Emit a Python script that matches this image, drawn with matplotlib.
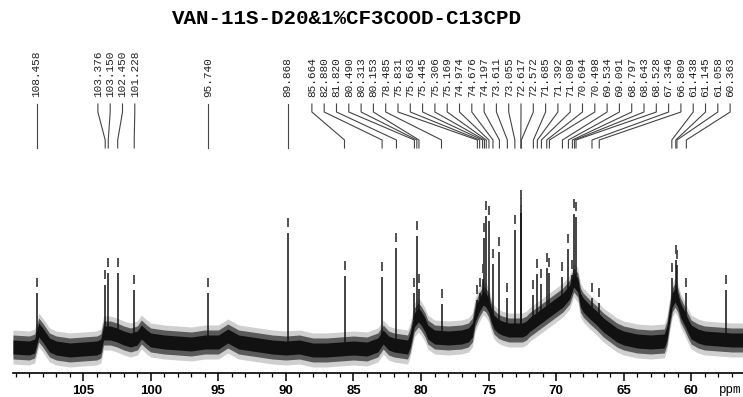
import matplotlib
matplotlib.use('Agg')
import matplotlib.pyplot as plt
from matplotlib.ticker import MultipleLocator
import numpy as np

# ---------------- data ----------------
title = "VAN-11S-D20&1%CF3COOD-C13CPD"

# labelled peaks (ppm) and their apex intensity (arbitrary units)
peak_ppm = [108.458, 103.376, 103.150, 102.450, 101.228, 95.740, 89.868,
            85.664, 82.880, 81.820, 80.490, 80.313, 80.153, 78.485,
            75.831, 75.663, 75.445, 75.306, 75.169, 74.974, 74.676, 74.197,
            73.611, 73.055, 72.617, 72.572, 71.685, 71.392, 71.089, 70.694,
            70.498, 69.534, 69.091, 68.797, 68.643, 68.528, 67.346, 66.809,
            61.438, 61.145, 61.058, 60.363]
peak_int = [52, 60, 72, 72, 55, 52, 112,
            69, 68, 97, 52, 109, 56, 41,
            45, 52, 66, 107, 129, 124, 81, 93,
            47, 115, 140, 132, 50, 71, 61, 77,
            72, 68, 96, 70, 131, 128, 47, 42,
            67, 85, 80, 52]
peak_labels = ["%.3f" % p for p in peak_ppm]

# picked but unlabelled peak
extra_ppm = [57.45]
extra_int = [55]

# centre of the noisy baseline (same arbitrary units)
base_ppm = [110.2, 109, 108.6, 108.3, 108.0, 107.5, 107, 106, 105, 104, 103.7, 103.5,
            103, 102.5, 102, 101.5, 101, 100.7, 100.3, 100, 99, 98, 97, 96, 95, 94.3,
            93.5, 92, 91, 90, 89, 88, 87, 86, 85, 84, 83.2, 82.8, 82.4, 82, 81, 80.8,
            80.5, 80.2, 80, 79.7, 79.5, 79, 78, 77, 76.5, 76.2, 76, 75.7, 75.4, 75.2,
            75, 74.8, 74.6, 74.3, 74, 73.5, 73, 72.5, 72.2, 72, 71.5, 71, 70.5, 70,
            69.5, 69, 68.7, 68.4, 68.2, 68, 67.5, 67, 66.5, 66, 65.5, 65, 64, 63, 62,
            61.8, 61.6, 61.4, 61.2, 61, 60.8, 60.5, 60.2, 60, 59.5, 59, 58, 57, 56.1]
base_int = [-2, -3, -1, 15, 10, 0, -3, -5, -4, -3, -1, 12,
            12, 10, 7, 5, 7, 13, 8, 5, 3, 2, 1, 3, 3, 9,
            3, 0, -2, -3, -2, -5, -5, -4, -3, -4, 0, 8, 2, 0, -2, 5,
            25, 30, 27, 20, 13, 8, 7, 8, 10, 15, 30, 40, 47, 45,
            40, 30, 23, 19, 17, 15, 15, 15, 17, 20, 25, 30, 35, 40,
            45, 53, 65, 60, 45, 40, 33, 27, 20, 15, 10, 7, 4, 3, 4,
            12, 30, 45, 50, 45, 35, 27, 18, 13, 9, 7, 6, 5, 5]

# ---------------- figure ----------------
W, H = 743, 397
fig = plt.figure(figsize=(W / 100, H / 100), dpi=100)
ax = fig.add_axes([13 / W, 24 / H, 730 / W, 373 / H])
ax.set_xlim(110.2, 56.17)
ax.set_ylim(-28, 345)

bp = np.array(base_ppm)
bi = np.array(base_int, dtype=float)
ax.fill_between(bp, bi - 17, bi + 17, color='#cfcfcf', lw=0)
ax.fill_between(bp, bi - 12, bi + 12, color='#5a5a5a', lw=0)
ax.fill_between(bp, bi - 7, bi + 7, color='#111111', lw=0)

def base_at(p):
    return np.interp(p, bp[::-1], bi[::-1])

all_ppm = np.array(peak_ppm + extra_ppm)
all_int = np.array(peak_int + extra_int, dtype=float)
ax.vlines(all_ppm, base_at(all_ppm), all_int, color='#111111', lw=1.1)
# peak-pick markers
ax.vlines(all_ppm, all_int + 6, all_int + 15, color='#444444', lw=1.3)

# ---- label de-overlap (in ppm units) ----
gap = 12.3 / 13.51

def spread(c):
    m = np.mean([peak_ppm[k] for k in c])
    n = len(c)
    return [m + gap * ((n - 1) / 2 - j) for j in range(n)]

order = sorted(range(len(peak_ppm)), key=lambda i: -peak_ppm[i])
clusters = []
for i in order:
    clusters.append([i])
    while len(clusters) >= 2:
        a, b = clusters[-2], clusters[-1]
        if spread(a)[-1] - spread(b)[0] < gap - 1e-9:
            clusters[-2] = a + b
            clusters.pop()
        else:
            break
label_x = {}
for c in clusters:
    for k, x in zip(c, spread(c)):
        label_x[k] = x

for k in range(len(peak_ppm)):
    lx = label_x[k]
    p = peak_ppm[k]
    ax.plot([lx, lx, p, p], [241, 233, 205, 197], color='#444444', lw=0.8,
            clip_on=False, solid_joinstyle='miter')
    ax.text(lx, 248, peak_labels[k], rotation=90, ha='center', va='bottom',
            fontfamily='Liberation Mono', fontsize=8, color='#222222')

# ---- axis ----
for s in ['top', 'left', 'right']:
    ax.spines[s].set_visible(False)
ax.spines['bottom'].set_linewidth(1.2)
ax.set_yticks([])
ax.xaxis.set_major_locator(MultipleLocator(5))
ax.xaxis.set_minor_locator(MultipleLocator(1))
ax.tick_params(axis='x', which='major', direction='out', length=6, width=1.1, pad=3)
ax.tick_params(axis='x', which='minor', direction='out', length=3, width=0.9)
ax.set_xticks([105, 100, 95, 90, 85, 80, 75, 70, 65, 60])
ax.set_xticklabels(['105', '100', '95', '90', '85', '80', '75', '70', '65', '60'],
                   fontfamily='Liberation Sans', fontweight='bold', fontsize=9.5)

fig.text(719 / W, (397 - 390) / H, 'ppm', ha='left', va='center',
         fontfamily='Liberation Mono', fontsize=9)

fig.text(347 / W, 1 - 19 / H, title, ha='center', va='center',
         fontfamily='Liberation Mono', fontweight='bold', fontsize=15)

fig.savefig('out.png', dpi=100)
